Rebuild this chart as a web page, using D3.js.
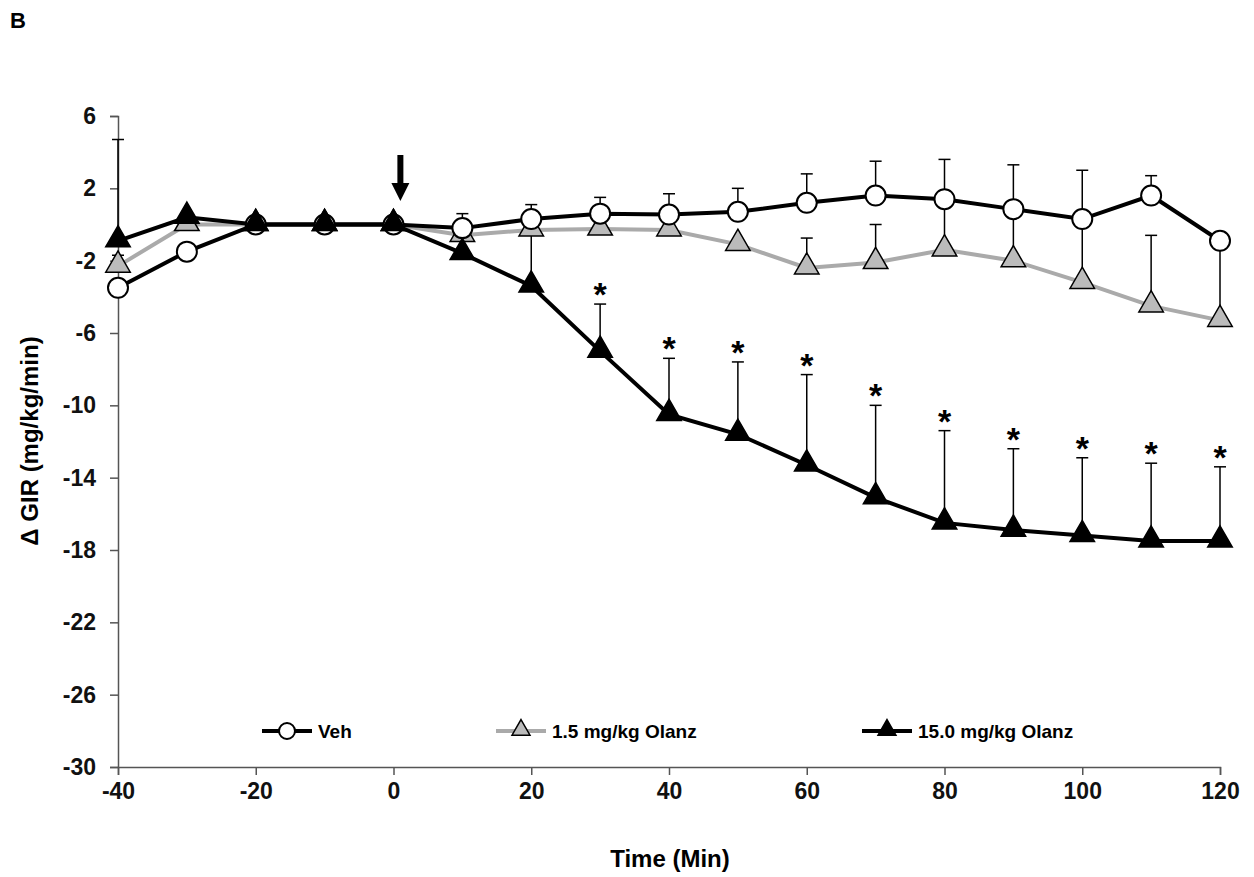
<!DOCTYPE html>
<html><head><meta charset="utf-8">
<script src="https://cdn.jsdelivr.net/npm/d3@7"></script>
<style>body{margin:0;background:#fff}text{font-family:Arial,"Liberation Sans",sans-serif;font-weight:bold}</style>
</head><body><svg width="1254" height="877"></svg>
<script>
const times = [-40,-30,-20,-10,0,10,20,30,40,50,60,70,80,90,100,110,120];
const yTicks = [6,2,-2,-6,-10,-14,-18,-22,-26,-30];
const xTicks = [-40,-20,0,20,40,60,80,100,120];
const vehMean = [-3.5,-1.5,0,0,0,-0.2,0.3,0.6,0.55,0.7,1.2,1.6,1.4,0.85,0.3,1.6,-0.9];
const vehTop  = [null,null,null,null,null,0.6,1.1,1.5,1.7,2.0,2.8,3.5,3.6,3.3,3.0,2.7,null];
const lowMean = [-2.3,0,0,0,0,-0.6,-0.3,-0.25,-0.3,-1.1,-2.4,-2.1,-1.4,-2.0,-3.2,-4.5,-5.3];
const lowTop  = [-1.7,null,null,null,null,null,null,null,null,null,-0.75,0,1.0,0.8,0.3,-0.6,-0.9];
const highMean = [-0.9,0.4,0,0,0,-1.6,-3.4,-7.0,-10.5,-11.6,-13.3,-15.1,-16.5,-16.9,-17.2,-17.5,-17.5];
const highTop  = [4.7,null,null,null,null,null,-0.3,-4.4,-7.4,-7.6,-8.3,-10.0,-11.4,-12.4,-12.9,-13.2,-13.4];
const starTimes = [30,40,50,60,70,80,90,100,110,120];

const svg = d3.select("svg");
const x = d3.scaleLinear().domain([-40,120]).range([118,1220]);
const y = d3.scaleLinear().domain([-30,6]).range([767,116]);
const fmt = d => String(d);

svg.append("text").attr("x",10).attr("y",28).attr("font-size",22).text("B");

const ya = svg.append("g").attr("transform","translate(118,0)")
  .call(d3.axisLeft(y).tickValues(yTicks).tickSize(8).tickFormat(fmt));
ya.selectAll("text").attr("font-size",23).attr("x",-22).attr("fill","#111");
const xa = svg.append("g").attr("transform","translate(0,767)")
  .call(d3.axisBottom(x).tickValues(xTicks).tickSize(8).tickFormat(fmt));
xa.selectAll("text").attr("font-size",23).attr("y",16).attr("fill","#111");
svg.selectAll(".domain,.tick line").attr("stroke","#555").attr("stroke-width",1.5);

svg.append("text").attr("x",670).attr("y",867).attr("text-anchor","middle").attr("font-size",24).text("Time (Min)");
svg.append("text").attr("transform","translate(38,441) rotate(-90)").attr("text-anchor","middle").attr("font-size",24).text("Δ GIR (mg/kg/min)");

function bars(means, tops, color){
  times.forEach((t,i)=>{
    if(tops[i]==null) return;
    svg.append("line").attr("x1",x(t)).attr("x2",x(t)).attr("y1",y(means[i])).attr("y2",y(tops[i])).attr("stroke",color).attr("stroke-width",1.5);
    svg.append("line").attr("x1",x(t)-6).attr("x2",x(t)+6).attr("y1",y(tops[i])).attr("y2",y(tops[i])).attr("stroke",color).attr("stroke-width",1.5);
  });
}
bars(highMean, highTop, "#000");
bars(lowMean, lowTop, "#000");
bars(vehMean, vehTop, "#000");

const line = d3.line().x((d,i)=>x(times[i])).y(d=>y(d));
const tri = d3.symbol().type(d3.symbolTriangle).size(260);
const series = [
  {m:lowMean, stroke:"#aaa", sym:"tri", fill:"#bbb"},
  {m:vehMean, stroke:"#000", sym:"circ", fill:"#fff"},
  {m:highMean, stroke:"#000", sym:"tri", fill:"#000"}
];
function marker(g, sym, fill, cx, cy){
  if(sym==="circ") g.append("circle").attr("cx",cx).attr("cy",cy).attr("r",10).attr("fill",fill).attr("stroke","#000").attr("stroke-width",2);
  else g.append("path").attr("d",tri).attr("transform",`translate(${cx},${cy-1})`).attr("fill",fill).attr("stroke","#000").attr("stroke-width",1.5);
}
series.forEach(s=>svg.append("path").attr("d",line(s.m)).attr("fill","none").attr("stroke",s.stroke).attr("stroke-width",4));
series.forEach(s=>s.m.forEach((v,i)=>marker(svg,s.sym,s.fill,x(times[i]),y(v))));

starTimes.forEach(t=>{
  const i = times.indexOf(t);
  svg.append("text").attr("x",x(t)).attr("y",y(highTop[i])+2).attr("text-anchor","middle").attr("font-size",34).text("*");
});

// arrow at time 0
svg.append("line").attr("x1",x(1)).attr("x2",x(1)).attr("y1",155).attr("y2",185).attr("stroke","#000").attr("stroke-width",6);
svg.append("path").attr("d",`M${x(1)-9},183 L${x(1)+9},183 L${x(1)},201 Z`).attr("fill","#000");

const legend = [
  {name:"Veh", x0:262, stroke:"#000", sym:"circ", fill:"#fff"},
  {name:"1.5 mg/kg Olanz", x0:496, stroke:"#aaa", sym:"tri", fill:"#bbb"},
  {name:"15.0 mg/kg Olanz", x0:862, stroke:"#000", sym:"tri", fill:"#000"}
];
legend.forEach(l=>{
  svg.append("line").attr("x1",l.x0).attr("x2",l.x0+50).attr("y1",731).attr("y2",731).attr("stroke",l.stroke).attr("stroke-width",4);
  const g = svg.append("g");
  if(l.sym==="circ") g.append("circle").attr("cx",l.x0+25).attr("cy",731).attr("r",8).attr("fill","#fff").attr("stroke","#000").attr("stroke-width",2);
  else g.append("path").attr("d",d3.symbol().type(d3.symbolTriangle).size(140)).attr("transform",`translate(${l.x0+25},730)`).attr("fill",l.fill).attr("stroke","#000").attr("stroke-width",1.5);
  svg.append("text").attr("x",l.x0+56).attr("y",738).attr("font-size",19).text(l.name);
});
</script></body></html>
